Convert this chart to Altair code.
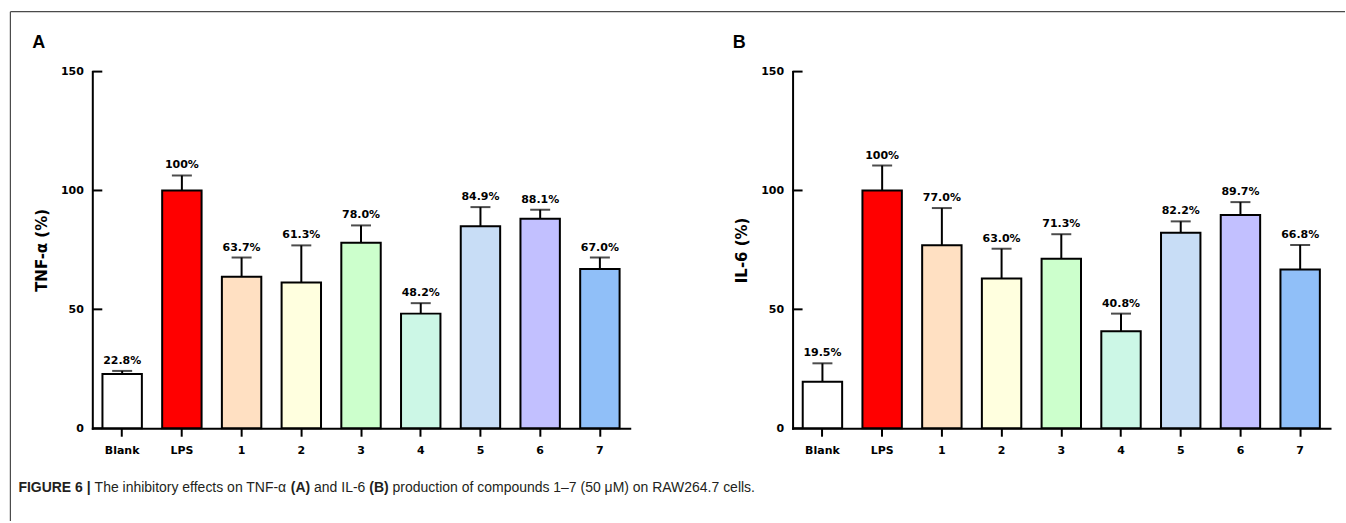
import altair as alt
import pandas as pd

categories = ["Blank", "LPS", "1", "2", "3", "4", "5", "6", "7"]
bar_colors = ["#FFFFFF", "#FF0000", "#FFE0C2", "#FFFFDF", "#CCFFCC",
              "#CCF7E6", "#C8DDF6", "#C2C0FF", "#90BFF8"]

tnf_mean = [22.8, 100.0, 63.7, 61.3, 78.0, 48.2, 84.9, 88.1, 67.0]
tnf_sd = [1.3, 6.3, 8.1, 15.6, 7.3, 4.4, 8.1, 3.8, 4.8]
tnf_labels = ["22.8%", "100%", "63.7%", "61.3%", "78.0%", "48.2%", "84.9%", "88.1%", "67.0%"]

il6_mean = [19.5, 100.0, 77.0, 63.0, 71.3, 40.8, 82.2, 89.7, 66.8]
il6_sd = [7.8, 10.5, 15.6, 12.5, 10.3, 7.4, 4.8, 5.4, 10.3]
il6_labels = ["19.5%", "100%", "77.0%", "63.0%", "71.3%", "40.8%", "82.2%", "89.7%", "66.8%"]

y_ticks = [0, 50, 100, 150]

caption_parts = [
    ("FIGURE 6 |", "bold"),
    ("The inhibitory effects on TNF-\u03b1", "normal"),
    ("(A)", "bold"),
    ("and IL-6", "normal"),
    ("(B)", "bold"),
    ("production of compounds 1\u20137 (50 \u03bcM) on RAW264.7 cells.", "normal"),
]
caption_x = [-74, 2.3, 198.7, 222.0, 277.3, 300.6]

W, H = 538, 357
FONT = "DejaVu Sans"
CAP_FONT = "Liberation Sans"
one = pd.DataFrame({"a": [0]})


def panel(mean, sd, labels, ytitle, letter, with_frame):
    df = pd.DataFrame({
        "cat": categories,
        "mean": mean,
        "upper": [m + s for m, s in zip(mean, sd)],
        "label": labels,
        "color": bar_colors,
    })
    yscale = alt.Scale(domain=[0, 150], nice=False, zero=True)
    x = alt.X("cat:N", sort=categories,
              scale=alt.Scale(paddingInner=0.34, paddingOuter=0.17),
              axis=alt.Axis(title=None, labelAngle=0, labelFont=FONT,
                            labelFontWeight="bold", labelFontSize=11,
                            labelColor="black", labelPadding=8,
                            domainColor="black", domainWidth=2,
                            domainCap="square",
                            tickColor="black", tickWidth=2, tickSize=8,
                            grid=False))
    base = alt.Chart(df)
    stem = base.mark_rule(color="black", strokeWidth=2).encode(
        x=x,
        y=alt.Y("mean:Q", scale=yscale,
                axis=alt.Axis(values=y_ticks, title=ytitle, grid=False,
                              ticks=False, labelFont=FONT,
                              labelFontWeight="bold", labelFontSize=11,
                              labelColor="black", labelPadding=9,
                              domainColor="black", domainWidth=2,
                              domainCap="square",
                              titleFont=FONT, titleFontWeight="bold",
                              titleFontSize=15, titleColor="black",
                              titlePadding=11)),
        y2="upper:Q")
    bars = base.mark_bar(stroke="black", strokeWidth=2).encode(
        x=x, y=alt.Y("mean:Q", scale=yscale),
        color=alt.Color("color:N", scale=None))
    caps = base.mark_tick(color="black", size=20, thickness=2).encode(
        x=x, y=alt.Y("upper:Q", scale=yscale))
    text = base.mark_text(font=FONT, fontWeight="bold", fontSize=11,
                          dy=-7, baseline="alphabetic", color="black").encode(
        x=x, y=alt.Y("upper:Q", scale=yscale), text="label:N")
    yt = alt.Chart(pd.DataFrame({"t": y_ticks})).mark_rule(
        color="black", strokeWidth=2).encode(
        y=alt.Y("t:Q", scale=yscale), x=alt.value(0), x2=alt.value(10))
    let = alt.Chart(one).mark_text(font="Liberation Sans", fontWeight="bold",
                                   fontSize=18, align="left",
                                   baseline="alphabetic", color="black").encode(
        x=alt.value(-60), y=alt.value(-24), text=alt.value(letter))
    layers = [stem, bars, caps, text, yt, let]
    if with_frame:
        top = alt.Chart(one).mark_rule(color="#4a4a4a", strokeWidth=1.2).encode(
            x=alt.value(-82), x2=alt.value(1254), y=alt.value(-60))
        left = alt.Chart(one).mark_rule(color="#4a4a4a", strokeWidth=1.2).encode(
            x=alt.value(-82), y=alt.value(-60), y2=alt.value(450))
        layers += [top, left]
        for (txt, wt), cx in zip(caption_parts, caption_x):
            layers.append(alt.Chart(one).mark_text(
                font=CAP_FONT, fontWeight=wt, fontSize=14, align="left",
                baseline="alphabetic", color="#231f20").encode(
                x=alt.value(cx), y=alt.value(421), text=alt.value(txt)))
    return alt.layer(*layers).properties(width=W, height=H)


pa = panel(tnf_mean, tnf_sd, tnf_labels, "TNF-\u03b1 (%)", "A", True)
pb = panel(il6_mean, il6_sd, il6_labels, "IL-6 (%)", "B", False)

chart = alt.hconcat(pa, pb, spacing=163, bounds="flush").properties(
    padding={"left": 9.4, "top": 10.4, "right": 0, "bottom": 0},
    background="white"
).configure_view(stroke="transparent", strokeWidth=0)

chart.save("out.html", embed_options={"renderer": "svg", "actions": False})
